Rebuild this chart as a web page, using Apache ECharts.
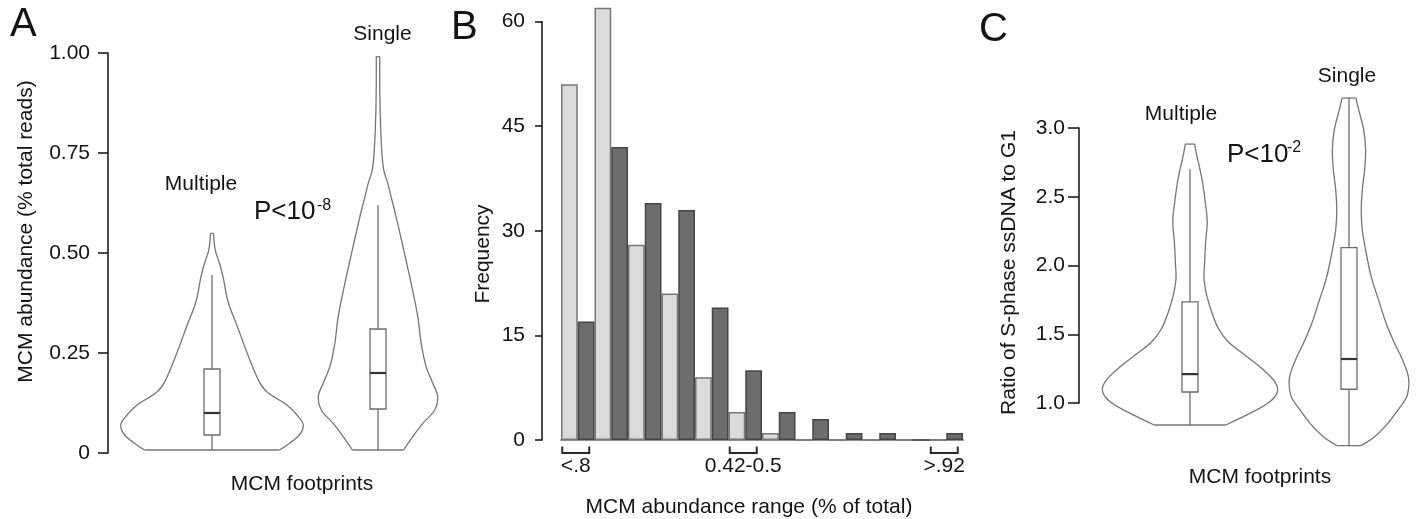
<!DOCTYPE html>
<html><head><meta charset="utf-8">
<script src="https://cdn.jsdelivr.net/npm/echarts@6/dist/echarts.min.js"></script>
<style>html,body{margin:0;padding:0;background:#fff}#c{width:1416px;height:519px}</style>
</head><body><div id="c"></div>
<script>
// ---------------- DATA ----------------
const footprintGroups = ['Multiple', 'Single'];

// Panel A: violin outlines [MCM abundance, relative half-width], bottom -> top
const aMultipleProfile = [[0.0075,0.736],[0.024,0.846],[0.045,0.956],[0.07,1.0],[0.095,0.931],[0.12,0.82],[0.153,0.60],[0.179,0.516],[0.237,0.407],[0.32,0.271],[0.378,0.176],[0.437,0.124],[0.47,0.088],[0.507,0.036],[0.549,0.016]];
const aSingleProfile = [[0.0075,0.280],[0.041,0.381],[0.074,0.491],[0.107,0.619],[0.141,0.654],[0.174,0.601],[0.216,0.527],[0.274,0.473],[0.341,0.436],[0.424,0.363],[0.507,0.282],[0.591,0.198],[0.641,0.143],[0.674,0.107],[0.707,0.063],[0.757,0.041],[0.841,0.025],[0.924,0.019],[0.991,0.019]];
// box plots: [lower whisker, Q1, median, Q3, upper whisker]
const aMultipleBox = [0.0075, 0.045, 0.10, 0.21, 0.445];
const aSingleBox = [0.0075, 0.11, 0.20, 0.31, 0.62];
const aTickLabels = ['0', '0.25', '0.50', '0.75', '1.00'];

// Panel B: histogram of frequencies per abundance bin
const bBins = ['1','2','3','4','5','6','7','8','9','10','11','12'];
const bLight = [51, 62, 28, 21, 9, 4, 1, 0, 0, 0, 0, 0];
const bDark = [17, 42, 34, 33, 19, 10, 4, 3, 1, 1, 0, 1];
const bBracketBins = [0, 5, 11];
const bBracketLabels = ['<.8', '0.42-0.5', '>.92'];

// Panel C: violin outlines [ratio S-phase ssDNA to G1, relative half-width], bottom -> top
const cMultipleProfile = [[0.84,0.410],[0.937,0.722],[1.009,0.912],[1.082,1.0],[1.155,0.969],[1.253,0.818],[1.349,0.627],[1.446,0.437],[1.544,0.323],[1.664,0.247],[1.786,0.190],[1.907,0.160],[2.028,0.168],[2.174,0.179],[2.32,0.197],[2.465,0.174],[2.587,0.148],[2.708,0.111],[2.805,0.076],[2.883,0.054]];
const cSingleProfile = [[0.69,0.137],[0.755,0.293],[0.852,0.445],[0.949,0.559],[1.046,0.66],[1.143,0.685],[1.216,0.67],[1.337,0.596],[1.434,0.521],[1.58,0.425],[1.726,0.350],[1.919,0.254],[2.114,0.190],[2.259,0.152],[2.405,0.140],[2.55,0.152],[2.696,0.179],[2.841,0.190],[2.987,0.168],[3.132,0.111],[3.218,0.080]];
const cMultipleBox = [0.84, 1.08, 1.21, 1.735, 2.70];
const cSingleBox = [0.69, 1.10, 1.32, 2.13, 3.218];
const cTickLabels = ['1.0', '1.5', '2.0', '2.5', '3.0'];

// ---------------- STYLE ----------------
const FONT = '"Liberation Sans", Arial, Helvetica, sans-serif';
const TXT = '#141414';
const VIOLIN_HALF = 0.55;   // widest half-width as a fraction of one group slot
const BOX_HALF = 8;

function makeViolin(profiles, boxes) {
  return function (params, api) {
    const i = params.dataIndex;
    const prof = profiles[i], box = boxes[i];
    const slot = Math.abs(api.coord([1, 0])[0] - api.coord([0, 0])[0]);
    const half = slot * VIOLIN_HALF;
    const cx = api.coord([i, prof[0][0]])[0];
    const L = [], R = [];
    prof.forEach(function (p) {
      const y = api.coord([i, p[0]])[1];
      L.push([cx - p[1] * half, y]);
      R.push([cx + p[1] * half, y]);
    });
    const n = L.length;
    const vs = {stroke: '#767676', lineWidth: 1.3, fill: null};
    const bs = {stroke: '#6c6c6c', lineWidth: 1.3, fill: null};
    const y = function (v) { return api.coord([i, v])[1]; };
    return {
      type: 'group',
      children: [
        {type: 'polyline', shape: {points: L, smooth: 0.35}, style: vs},
        {type: 'polyline', shape: {points: R, smooth: 0.35}, style: vs},
        {type: 'line', shape: {x1: L[0][0], y1: L[0][1], x2: R[0][0], y2: R[0][1]}, style: vs},
        {type: 'line', shape: {x1: L[n-1][0], y1: L[n-1][1], x2: R[n-1][0], y2: R[n-1][1]}, style: vs},
        {type: 'line', shape: {x1: cx, y1: y(box[0]), x2: cx, y2: y(box[1])}, style: bs},
        {type: 'line', shape: {x1: cx, y1: y(box[3]), x2: cx, y2: y(box[4])}, style: bs},
        {type: 'rect', shape: {x: cx - BOX_HALF, y: y(box[3]), width: 2 * BOX_HALF, height: y(box[1]) - y(box[3])},
          style: {stroke: '#6c6c6c', lineWidth: 1.3, fill: '#fff'}},
        {type: 'line', shape: {x1: cx - BOX_HALF, y1: y(box[2]), x2: cx + BOX_HALF, y2: y(box[2])},
          style: {stroke: '#333', lineWidth: 2.2}}
      ]
    };
  };
}

function bracketRender(params, api) {
  const i = params.dataIndex;
  const p = api.coord([bBracketBins[i], 0]);
  const cx = p[0] - 2.5, base = p[1];
  return {
    type: 'group',
    children: [
      {type: 'polyline', shape: {points: [[cx - 13, base + 6.5], [cx - 13, base + 13], [cx + 14, base + 13], [cx + 14, base + 6.5]]},
        style: {stroke: '#2a2a2a', lineWidth: 2, fill: null}},
      {type: 'text', style: {text: bBracketLabels[i], x: cx + 0.5, y: base + 26, font: '21px ' + FONT, fill: TXT,
        align: 'center', verticalAlign: 'middle', textAlign: 'center', textVerticalAlign: 'middle'}}
    ]
  };
}

const axisLabelStyle = {fontSize: 21, color: TXT, fontFamily: FONT};
const axisLineStyle = {color: '#111', width: 1.5};

function txt(text, x, y, size, opts) {
  opts = opts || {};
  return {
    type: 'text', x: x, y: y, rotation: opts.rot || 0, z: 100,
    style: {text: text, x: 0, y: 0, font: size + 'px ' + FONT, fill: TXT,
      align: opts.align || 'center', textAlign: opts.align || 'center',
      verticalAlign: 'middle', textVerticalAlign: 'middle'}
  };
}

const option = {
  animation: false,
  backgroundColor: '#fff',
  grid: [
    {left: 129, top: 53, width: 332, height: 400},
    {left: 561, top: 21.6, width: 402, height: 418.4},
    {left: 1110.5, top: 128, width: 305.5, height: 275}
  ],
  xAxis: [
    {gridIndex: 0, type: 'value', min: -0.5, max: 1.5, show: false},
    {gridIndex: 1, type: 'category', data: bBins, boundaryGap: true,
      axisLine: {show: true, lineStyle: {color: '#8f8f8f', width: 2}}, axisTick: {show: false}, axisLabel: {show: false}},
    {gridIndex: 2, type: 'value', min: -0.5, max: 1.4214, show: false}
  ],
  yAxis: [
    {gridIndex: 0, type: 'value', min: 0, max: 1, interval: 0.25, offset: 21, position: 'left',
      axisLine: {show: true, onZero: false, lineStyle: axisLineStyle}, axisTick: {show: true, length: 10, lineStyle: axisLineStyle},
      splitLine: {show: false},
      axisLabel: Object.assign({margin: 18, formatter: function (v) { return aTickLabels[Math.round(v / 0.25)]; }}, axisLabelStyle)},
    {gridIndex: 1, type: 'value', min: 0, max: 60, interval: 15, offset: 19, position: 'left',
      axisLine: {show: true, onZero: false, lineStyle: axisLineStyle}, axisTick: {show: true, length: 7, lineStyle: axisLineStyle},
      splitLine: {show: false}, axisLabel: Object.assign({margin: 17}, axisLabelStyle)},
    {gridIndex: 2, type: 'value', min: 1, max: 3, interval: 0.5, offset: 31.5, position: 'left',
      axisLine: {show: true, onZero: false, lineStyle: axisLineStyle}, axisTick: {show: true, length: 11, lineStyle: axisLineStyle},
      splitLine: {show: false},
      axisLabel: Object.assign({margin: 14, formatter: function (v) { return cTickLabels[Math.round((v - 1) / 0.5)]; }}, axisLabelStyle)}
  ],
  series: [
    {type: 'custom', xAxisIndex: 0, yAxisIndex: 0, encode: {x: 0, y: 1},
      data: footprintGroups.map(function (g, i) { return [i, [aMultipleBox, aSingleBox][i][2]]; }),
      renderItem: makeViolin([aMultipleProfile, aSingleProfile], [aMultipleBox, aSingleBox])},
    {type: 'bar', name: 'light', xAxisIndex: 1, yAxisIndex: 1, data: bLight, clip: false,
      barGap: '0%', barCategoryGap: '0%',
      itemStyle: {color: '#dbdbdb', borderColor: '#777', borderWidth: 1.5}},
    {type: 'bar', name: 'dark', xAxisIndex: 1, yAxisIndex: 1, data: bDark, clip: false,
      barGap: '0%', barCategoryGap: '0%',
      itemStyle: {color: '#6d6d6d', borderColor: '#454545', borderWidth: 1.5}},
    {type: 'custom', xAxisIndex: 1, yAxisIndex: 1, encode: {x: 0, y: 1},
      data: bBracketBins.map(function (b) { return [b, 0]; }), renderItem: bracketRender},
    {type: 'custom', xAxisIndex: 2, yAxisIndex: 2, encode: {x: 0, y: 1},
      data: footprintGroups.map(function (g, i) { return [i, [cMultipleBox, cSingleBox][i][2]]; }),
      renderItem: makeViolin([cMultipleProfile, cSingleProfile], [cMultipleBox, cSingleBox])}
  ],
  graphic: [
    txt('A', 10, 25, 40, {align: 'left'}),
    txt('B', 451, 28, 40, {align: 'left'}),
    txt('C', 979, 29.5, 40, {align: 'left'}),
    txt('MCM abundance (% total reads)', 26, 231.5, 21, {rot: Math.PI / 2}),
    txt('Frequency', 483, 254, 21, {rot: Math.PI / 2}),
    txt('Ratio of S-phase ssDNA to G1', 1009, 272.5, 21, {rot: Math.PI / 2}),
    txt('MCM footprints', 302, 484, 21),
    txt('MCM abundance range (% of total)', 749, 507, 21),
    txt('MCM footprints', 1260, 477.5, 21),
    txt(footprintGroups[1], 382.5, 34.5, 21),
    txt(footprintGroups[0], 201, 184, 21),
    txt('P<10', 254, 212, 26, {align: 'left'}),
    txt('-8', 317, 205.5, 16, {align: 'left'}),
    txt(footprintGroups[1], 1347, 76, 21),
    txt(footprintGroups[0], 1181, 114.5, 21),
    txt('P<10', 1227, 155, 26, {align: 'left'}),
    txt('-2', 1287, 147.5, 16, {align: 'left'})
  ]
};

const chart = echarts.init(document.getElementById('c'), null, {renderer: 'canvas'});
chart.setOption(option);
</script>
</body></html>
